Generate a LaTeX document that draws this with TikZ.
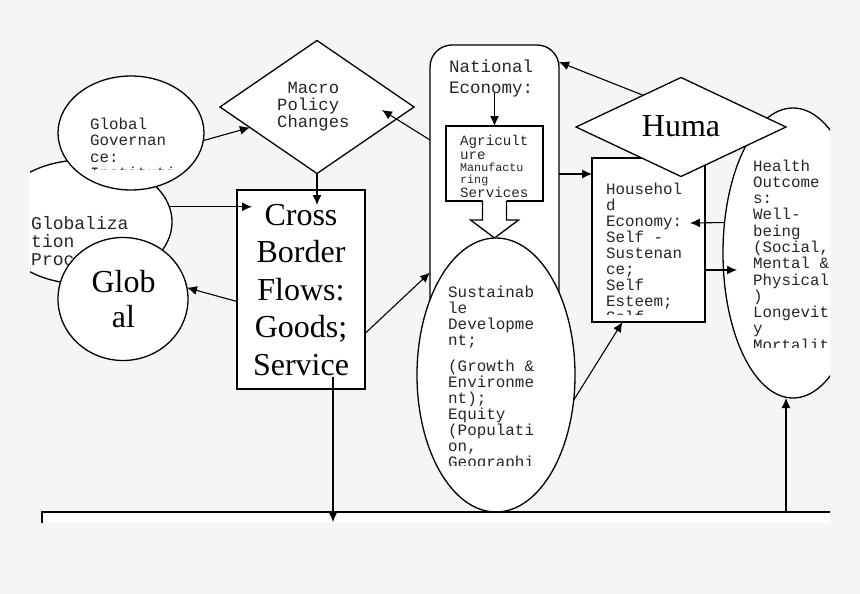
\documentclass[tikz,border=0pt]{standalone}
\usepackage{fontspec}
\setmainfont{Liberation Serif}
\newfontfamily\typew{Liberation Mono}
\usetikzlibrary{shapes.geometric,arrows.meta}
\definecolor{bgc}{HTML}{F5F5F5}
\newcommand\lstack[2]{\vtop{\baselineskip=#1\relax\lineskiplimit=-\maxdimen\let\\=\cr\halign{##\hfil\cr#2\crcr}}}
\newcommand\cstack[2]{\vtop{\baselineskip=#1\relax\lineskiplimit=-\maxdimen\let\\=\cr\halign{\hfil##\hfil\cr#2\crcr}}}
\newcommand\sm{\fontsize{11.7}{12}\selectfont}
\tikzset{%
  shp/.style={draw=black,fill=white,line width=1.3pt,inner sep=0pt,outer sep=0pt},
  oval/.style={shp,ellipse},
  kite/.style={shp,diamond},
  panel/.style={shp,rectangle},
  tw/.style={font=\typew\fontsize{#1}{#1}\selectfont,text=black!85,inner sep=0pt,anchor=base west},
  big/.style={font=\fontsize{32}{36}\selectfont,inner sep=0pt,anchor=base},
  arr/.style={-{Latex[length=10pt,width=9pt]},line width=1.1pt}
}
\begin{document}
\begin{tikzpicture}[x=1pt,y=-1pt]
  \fill[bgc] (0,0) rectangle (860,594);
  \useasboundingbox (0,0) rectangle (860,594);
  \begin{scope}
  \clip (30,30) rectangle (830,522);

  \node[oval,minimum width=178pt,minimum height=124pt] (glob) at (83,222) {};
  \node[tw=18] (globtxt) at (31,229) {\lstack{18pt}{Globaliza\\tion\\Process}};

  \node[oval,minimum width=146pt,minimum height=114pt] (gov) at (131,133) {};
  \begin{scope}
    \clip (60,100) rectangle (200,169);
    \node[tw=15.8] (govtxt) at (90,129) {\lstack{16.5pt}{Global\\Governan\\ce:\\Instituti}};
  \end{scope}

  \node[oval,minimum width=130pt,minimum height=123pt] (gl) at (123,299) {};
  \node[big] (gltxt) at (123.5,292) {\cstack{35pt}{Glob\\al}};

  \node[kite,minimum width=194pt,minimum height=133pt] (macro) at (317,107) {};
  \node[tw=17.2] (macrotxt) at (277,93) {\lstack{17.5pt}{\ Macro\\Policy\\Changes}};

  \node[panel,minimum width=128pt,minimum height=199pt] (cbf) at (301,289.5) {};
  \node[big] (cbftxt) at (301,225) {\cstack{37.5pt}{Cross\\Border\\Flows:\\Goods;\\Service}};

  \node[panel,rounded corners=22pt,minimum width=129pt,minimum height=285pt] (nat) at (494.5,187.5) {};
  \node[tw=17.5] (nattxt) at (449,73) {\lstack{21pt}{National\\Economy:}};

  \node[panel,minimum width=97pt,minimum height=75pt] (agri) at (494.5,163.5) {};
  \node[tw=14.2] (agritxt) at (460,145) {\lstack{12pt}{Agricult\\\noalign{\kern2pt}ure\\\sm Manufactu\\\sm ring\\\noalign{\kern2pt}Services}};
  \path[fill=white] ([xshift=-12pt,yshift=1.5pt]agri.south) -- ++(0,20.5) -- ++(-12,0) -- ++(24,18) -- ++(24,-18) -- ++(-12,0) -- ++(0,-20.5) -- cycle;
  \draw[line width=1.3pt] ([xshift=-12pt]agri.south) -- ++(0,19) -- ++(-12,0) -- ++(24,18) -- ++(24,-18) -- ++(-12,0) -- ++(0,-19);

  \node[oval,minimum width=158pt,minimum height=274pt] (sust) at (496,375) {};
  \begin{scope}
    \clip (420,280) rectangle (580,465);
    \node[tw=15.9] (susttxt) at (448,297) {\lstack{16pt}{Sustainab\\le\\Developme\\nt;\\\noalign{\kern10pt}(Growth \&\\Environme\\nt);\\Equity\\(Populati\\on,\\Geographi}};
  \end{scope}

  \node[oval,minimum width=140pt,minimum height=290pt] (hlth) at (793,253) {};
  \begin{scope}
    \clip (740,150) rectangle (830,347);
    \node[tw=15.8] (hlthtxt) at (753,171) {\lstack{16.3pt}{Health\\Outcome\\s:\\Well-\\being\\(Social,\\Mental \&\\Physical\\)\\Longevit\\y\\Mortalit}};
  \end{scope}

  \node[panel,minimum width=113pt,minimum height=164pt] (hh) at (648.5,240) {};
  \begin{scope}
    \clip (595,160) rectangle (702,314);
    \node[tw=15.8] (hhtxt) at (606,194) {\lstack{16pt}{Househol\\d\\Economy:\\Self -\\Sustenan\\ce;\\Self\\Esteem;\\Self}};
  \end{scope}

  \node[kite,minimum width=210pt,minimum height=99pt] (huma) at (681,127) {};
  \node[big] (humatxt) at (681,136) {Huma};

  \node[panel,minimum width=858pt,minimum height=108pt] (base) at (471,566) {};

  \draw[arr] (gov.-6) -- (macro.197);
  \draw[arr,shorten >=-15pt] (macro.south) -- (macro.south |- cbf.north);
  \draw[arr,shorten >=-15pt] (glob.10) -- (cbf.west |- glob.10);
  \draw[arr] ([yshift=-12pt]cbf.west) -- (gl.10);
  \draw[arr] ([yshift=-44pt]cbf.east) -- ([yshift=-85pt]nat.west);
  \draw[arr] ([yshift=47.5pt]nat.west) -- ([xshift=65pt,yshift=-3pt]macro.center);
  \draw[arr] ([yshift=33pt]agri.north) -- (agri.north);
  \draw[arr] (huma.140) -- ([yshift=125.5pt]nat.east);
  \draw[arr] ([yshift=13.5pt]nat.east) -- ([yshift=66pt]hh.west);
  \draw[arr] (hlth.156) -- ([xshift=-15pt,yshift=17pt]hh.east);
  \draw[arr] ([yshift=-30pt]hh.east) -- ([xshift=14pt,yshift=-17pt]hlth.west);
  \draw[arr] (sust.-18) -- ([xshift=-26pt]hh.south);
  \coordinate (cdrop) at ([xshift=32pt,yshift=12pt]cbf.south);
  \draw[arr,shorten >=-10pt] (cdrop) -- (cdrop |- base.north);
  \coordinate (hfoot) at ([xshift=-7pt]hlth.south);
  \draw[arr] (hfoot |- base.north) -- (hfoot);
  \end{scope}
\end{tikzpicture}
\end{document}
